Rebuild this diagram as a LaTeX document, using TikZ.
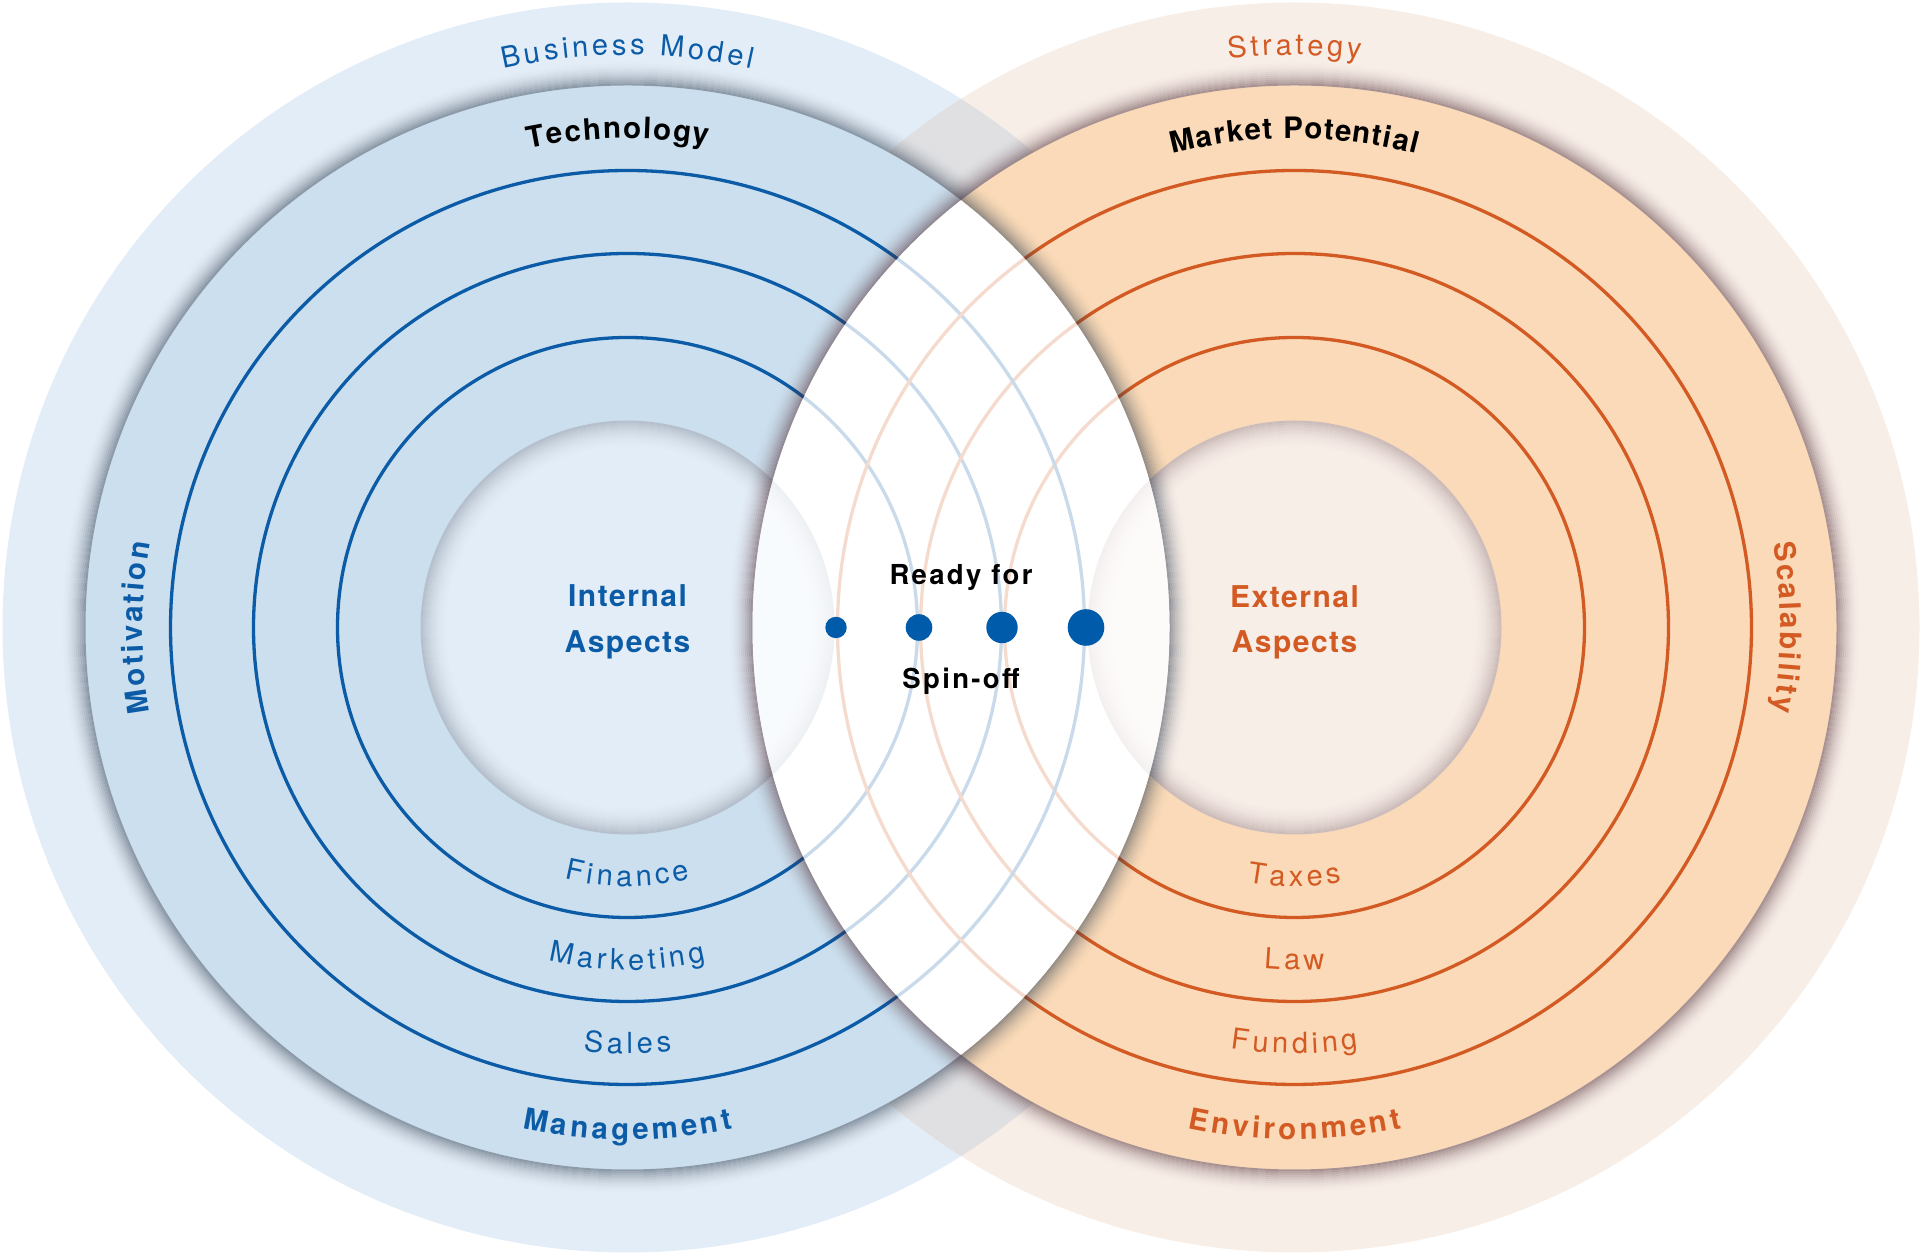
\documentclass[tikz,border=0pt]{standalone}
\usepackage{fontspec}
\setmainfont{TeX Gyre Heros}
\newfontfamily\trkA[LetterSpace=5]{TeX Gyre Heros}
\newfontfamily\trkB[LetterSpace=8.5]{TeX Gyre Heros}
\definecolor{lblue}{HTML}{E3EDF7}
\definecolor{tblue}{HTML}{CCDFEE}
\definecolor{dblue}{HTML}{0B5BA6}
\definecolor{lorange}{HTML}{F8EEE8}
\definecolor{torange}{HTML}{FADAB8}
\definecolor{dorange}{HTML}{D35A22}
\definecolor{ovgray}{HTML}{E0E0E3}
\definecolor{shblue}{HTML}{28384A}
\definecolor{shorange}{HTML}{4A2830}
\definecolor{dotblue}{HTML}{005BAA}

\ExplSyntaxOn
\box_new:N \l__arc_box
\fp_new:N \l__arc_total_fp
\fp_new:N \l__arc_cum_fp
\fp_new:N \l__arc_ang_fp
\fp_new:N \l__arc_w_fp
\int_new:N \l__arc_n_int
\tl_new:N \l__arc_x_tl
\tl_new:N \l__arc_y_tl
\tl_new:N \l__arc_rot_tl
\tl_new:N \g__arc_nodes_tl
% #1 cx, #2 cy, #3 radius, #4 mid angle, #5 dir (1 top/clockwise, -1 bottom), #6 tracking, #7 font, #8 colour, #9 text
\NewDocumentCommand \ArcText { m m m m m m m m m }
  {
    \fp_zero:N \l__arc_total_fp
    \int_zero:N \l__arc_n_int
    \str_map_inline:nn { #9 }
      {
        \hbox_set:Nn \l__arc_box { #7 ##1 }
        \fp_add:Nn \l__arc_total_fp { \dim_to_fp:n { \box_wd:N \l__arc_box } }
        \int_incr:N \l__arc_n_int
      }
    \fp_add:Nn \l__arc_total_fp { ( \l__arc_n_int - 1 ) * ( #6 ) }
    \fp_zero:N \l__arc_cum_fp
    \str_map_inline:nn { #9 }
      {
        \hbox_set:Nn \l__arc_box { #7 ##1 }
        \fp_set:Nn \l__arc_w_fp { \dim_to_fp:n { \box_wd:N \l__arc_box } }
        \fp_set:Nn \l__arc_ang_fp
          { #4 + ( #5 ) * ( \l__arc_total_fp / 2 - \l__arc_cum_fp - \l__arc_w_fp / 2 ) / ( #3 ) * 180 / pi }
        \tl_set:Nx \l__arc_x_tl { \fp_eval:n { #1 + ( #3 ) * cosd ( \l__arc_ang_fp ) } }
        \tl_set:Nx \l__arc_y_tl { \fp_eval:n { #2 + ( #3 ) * sind ( \l__arc_ang_fp ) } }
        \tl_set:Nx \l__arc_rot_tl { \fp_eval:n { \l__arc_ang_fp - ( #5 ) * 90 } }
        \tl_gput_right:Nx \g__arc_nodes_tl
          {
            \exp_not:N \node [ anchor = base , inner~sep = 0pt , text = #8 , rotate = \l__arc_rot_tl ]
              ~ at ~ ( \l__arc_x_tl pt , \l__arc_y_tl pt ) { \exp_not:n { #7 ##1 } } ;
          }
        \fp_add:Nn \l__arc_cum_fp { \l__arc_w_fp + ( #6 ) }
      }
  }
\NewDocumentCommand \ArcNodes { } { \tl_use:N \g__arc_nodes_tl }
\ExplSyntaxOff

\newcommand\regf{\fontsize{29}{33}\selectfont}
\newcommand\boldf{\bfseries\fontsize{29.5}{34}\selectfont}

\tikzset{
  ringline/.style={line width=3.3pt},
  centertext/.style={anchor=base, inner sep=0pt, font=\trkA\bfseries\fontsize{30}{36}\selectfont},
  readytext/.style={anchor=base, inner sep=0pt, font=\trkB\bfseries\fontsize{27.5}{33}\selectfont, text=black},
  spot/.style={circle, fill=dotblue, inner sep=0pt}
}

\begin{document}
% curved texts, left (computed before the picture)
\ArcText{627.5}{627.5}{572.5}{90}{1}{3.5}{\regf}{dblue}{Business Model}
\ArcText{627.5}{627.5}{489}{91.1}{1}{1.7}{\boldf}{black}{Technology}
\ArcText{627.5}{627.5}{485}{180}{1}{2.5}{\boldf}{dblue}{Motivation}
\ArcText{627.5}{627.5}{512}{270}{-1}{3.5}{\boldf}{dblue}{Management}
\ArcText{627.5}{627.5}{259}{270}{-1}{4}{\regf}{dblue}{Finance}
\ArcText{627.5}{627.5}{342.5}{270}{-1}{4}{\regf}{dblue}{Marketing}
\ArcText{627.5}{627.5}{426}{270}{-1}{4}{\regf}{dblue}{Sales}
% curved texts, right
\ArcText{1294.5}{627.5}{572.5}{90}{1}{3.5}{\regf}{dorange}{Strategy}
\ArcText{1294.5}{627.5}{489}{90}{1}{1.2}{\boldf}{black}{Market Potential}
\ArcText{1294.5}{627.5}{486}{0}{1}{2.3}{\boldf}{dorange}{Scalability}
\ArcText{1294.5}{627.5}{512}{270}{-1}{3.6}{\boldf}{dorange}{Environment}
\ArcText{1294.5}{627.5}{259}{270}{-1}{4}{\regf}{dorange}{Taxes}
\ArcText{1294.5}{627.5}{342.5}{270}{-1}{4}{\regf}{dorange}{Law}
\ArcText{1294.5}{627.5}{426}{270}{-1}{4}{\regf}{dorange}{Funding}%
\begin{tikzpicture}[x=1pt,y=1pt]
\useasboundingbox (0,0) rectangle (1922,1255);
\coordinate (L) at (627.5,627.5);
\coordinate (R) at (1294.5,627.5);

% outer light disks
\fill[lblue] (L) circle[radius=625pt];
\fill[lorange] (R) circle[radius=625pt];
\begin{scope}
  \clip (L) circle[radius=625pt];
  \fill[ovgray] (R) circle[radius=625pt];
\end{scope}

% main disks
\fill[tblue] (L) circle[radius=542pt];
\fill[torange] (R) circle[radius=542pt];
\begin{scope}
  \clip (L) circle[radius=542pt];
  \fill[white] (R) circle[radius=542pt];
\end{scope}

% ring lines
\foreach \r in {290,374,457} {
  \draw[dblue, ringline] (L) circle[radius=\r*1pt];
  \draw[dorange, ringline] (R) circle[radius=\r*1pt];
}

% inner circles with inner shadow
\fill[lblue] (L) circle[radius=207pt];
\fill[lorange] (R) circle[radius=207pt];
\foreach \i in {0,...,13} {
  \pgfmathsetmacro\rr{206-2*\i}
  \pgfmathsetmacro\oo{0.24*(1-\i/14)^2}
  \draw[shblue, line width=2pt, draw opacity=\oo] (L) circle[radius=\rr*1pt];
  \draw[shorange, line width=2pt, draw opacity=\oo] (R) circle[radius=\rr*1pt];
}

% outer shadows of the main disks
\foreach \i in {0,...,11} {
  \pgfmathsetmacro\rr{543+2*\i}
  \pgfmathsetmacro\oo{0.45*(1-\i/12)^2}
  \draw[shblue, line width=2pt, draw opacity=\oo] (L) circle[radius=\rr*1pt];
  \draw[shorange, line width=2pt, draw opacity=\oo] (R) circle[radius=\rr*1pt];
}

% lens overlay
\begin{scope}
  \clip (L) circle[radius=542pt];
  \fill[white, opacity=0.78] (R) circle[radius=542pt];
\end{scope}

% dots
\node[spot, minimum size=21.4pt] (d1) at (836,627.5) {};
\node[spot, minimum size=26.6pt] (d2) at (919,627.5) {};
\node[spot, minimum size=31.4pt] (d3) at (1002,627.5) {};
\node[spot, minimum size=36.6pt] (d4) at (1086,627.5) {};

% centre texts
\node[centertext, text=dblue] (int1) at (627.5,648) {Internal};
\node[centertext, text=dblue] (int2) at (627.5,602) {Aspects};
\node[centertext, text=dorange] (ext1) at (1294.5,647) {External};
\node[centertext, text=dorange] (ext2) at (1294.5,602) {Aspects};
\node[readytext] (rdy) at (961,670) {Ready for};
\node[readytext] (spin) at (961,566) {Spin-off};

% curved texts
\ArcNodes
\end{tikzpicture}
\end{document}
